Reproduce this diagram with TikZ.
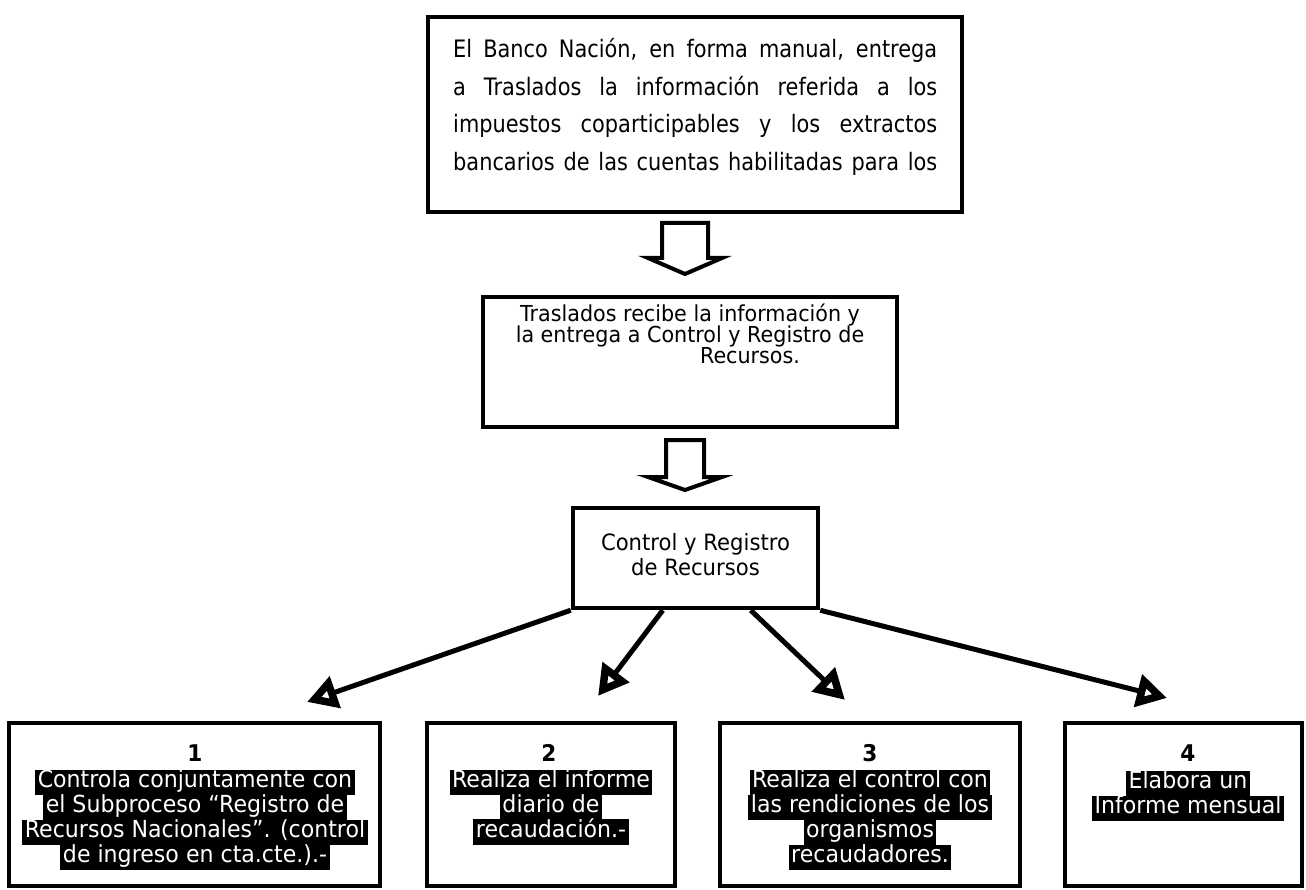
\documentclass[tikz,border=0pt]{standalone}
\usepackage{fontspec}
\setmainfont{DejaVu Sans}[FakeStretch=0.94]
\newfontfamily\narrowfont{DejaVu Sans}[FakeStretch=0.87]
\usetikzlibrary{arrows.meta,calc}
% white text on a black highlight, one strut-high band per line
\newcommand{\hlt}[1]{{\setlength{\fboxsep}{0pt}\colorbox{black}{\hspace{2.5pt}\strut\textcolor{white}{#1}\hspace{2.5pt}}}}
% a justified line of the top box
\newcommand{\jline}[1]{{\spaceskip=0.3em plus 3em minus 0.05em\makebox[484pt][s]{#1}}}
\lineskiplimit=-100pt
\begin{document}
\begin{tikzpicture}[x=1pt,y=-1pt,
  box/.style={draw=black, line width=4.5pt, fill=white, inner sep=0pt},
  blockarrow/.style={draw=black, line width=4pt, fill=white, line join=miter},
  link/.style={draw=black, line width=5pt, -{Triangle[open, length=30pt, width=32pt, line width=9pt]}},
  numlabel/.style={font=\bfseries\fontsize{23}{23}\selectfont, anchor=base, inner sep=0pt},
  hltext/.style={align=center, anchor=north, inner sep=0pt, font=\fontsize{23.5}{25}\selectfont}]
\useasboundingbox (0,0) rectangle (1306,890);

% top box
\node[box, minimum width=534pt, minimum height=195pt] (top) at (695,114.5) {};
\node[anchor=base west, text width=484pt, inner sep=0pt, font=\narrowfont\fontsize{24}{37.5}\selectfont] (toptext) at (453,58)
 {\jline{El Banco Nación, en forma manual, entrega}\\
  \jline{a Traslados la información referida a los}\\
  \jline{impuestos coparticipables y los extractos}\\
  \jline{bancarios de las cuentas habilitadas para los}};

% first block arrow
\coordinate (ar1) at (685,223);
\draw[blockarrow] ($(ar1)+(-23,0)$) -- ($(ar1)+(23,0)$) -- ($(ar1)+(23,35)$) -- ($(ar1)+(37,35)$)
  -- ($(ar1)+(0,51)$) -- ($(ar1)+(-37,35)$) -- ($(ar1)+(-23,35)$) -- cycle;

% second box
\node[box, minimum width=414pt, minimum height=130pt] (recv) at (690,362) {};
\node[anchor=base, align=center, inner sep=0pt, font=\fontsize{22}{21}\selectfont] (recvtext) at (690,363)
 {Traslados recibe la información y\\la entrega a Control y Registro de\\\hspace*{120pt}Recursos.};

% second block arrow
\coordinate (ar2) at (685,440);
\draw[blockarrow] ($(ar2)+(-19,0)$) -- ($(ar2)+(19,0)$) -- ($(ar2)+(19,37)$) -- ($(ar2)+(37,37)$)
  -- ($(ar2)+(0,50)$) -- ($(ar2)+(-37,37)$) -- ($(ar2)+(-19,37)$) -- cycle;

% control box
\node[box, minimum width=245pt, minimum height=100pt] (ctrl) at (695.5,558) {};
\node[anchor=base, align=center, inner sep=0pt, font=\fontsize{22.5}{25}\selectfont] (ctrltext) at (695.5,575)
 {Control y Registro\\de Recursos};

% bottom boxes
\node[box, minimum width=371pt, minimum height=163pt] (b1) at (194.5,804.5) {};
\node[box, minimum width=248pt, minimum height=163pt] (b2) at (551,804.5) {};
\node[box, minimum width=300pt, minimum height=163pt] (b3) at (870,804.5) {};
\node[box, minimum width=237pt, minimum height=163pt] (b4) at (1183.5,804.5) {};

\node[numlabel] (n1) at (195,761) {1};
\node[numlabel] (n2) at (549,761) {2};
\node[numlabel] (n3) at (870,761) {3};
\node[numlabel] (n4) at (1188,761) {4};

\node[hltext] (t1) at (195,769.5)
 {\hlt{Controla conjuntamente con}\\\hlt{el Subproceso “Registro de}\\\hlt{Recursos Nacionales”. (control}\\\hlt{de ingreso en cta.cte.).-}};
\node[hltext] (t2) at (551,769.5)
 {\hlt{Realiza el informe}\\\hlt{diario de}\\\hlt{recaudación.-}};
\node[hltext] (t3) at (870,769.5)
 {\hlt{Realiza el control con}\\\hlt{las rendiciones de los}\\\hlt{organismos}\\\hlt{recaudadores.}};
\node[hltext] (t4) at (1188,770.5)
 {\hlt{Elabora un}\\\hlt{Informe mensual}};

% connectors from the control box
\coordinate (s1) at (ctrl.south west);
\coordinate (s2) at ($(ctrl.south west)+(92,0)$);
\coordinate (s3) at ($(ctrl.south west)+(180,0)$);
\coordinate (s4) at (ctrl.south east);
\coordinate (e1) at (307,702);
\coordinate (e2) at (598,696);
\coordinate (e3) at (845,700);
\coordinate (e4) at (1167,698);
\draw[link] (s1) -- (e1);
\draw[link] (s2) -- (e2);
\draw[link] (s3) -- (e3);
\draw[link] (s4) -- (e4);
\end{tikzpicture}
\end{document}
